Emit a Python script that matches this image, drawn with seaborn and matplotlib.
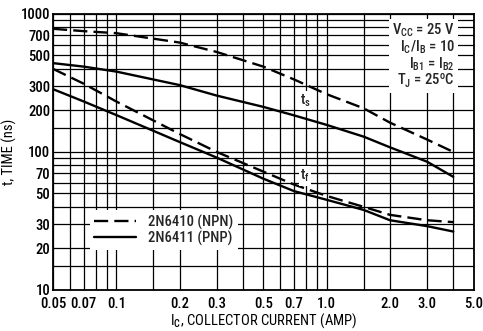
import numpy as np
import pandas as pd
import seaborn as sns
import matplotlib.pyplot as plt
from matplotlib.lines import Line2D

# collector current points (A)
ic = [0.05, 0.07, 0.1, 0.2, 0.3, 0.5, 0.7, 1.0, 1.5, 2.0, 3.0, 4.0]

# storage time ts (ns)
ts_npn = [780, 750, 725, 620, 530, 415, 335, 262, 207, 163, 123, 100]
ts_pnp = [440, 415, 382, 305, 256, 212, 184, 157, 129, 108, 85, 66]
# fall time tf (ns)
tf_npn = [400, 312, 232, 135, 100, 72, 58, 48, 40, 35, 32, 31]
tf_pnp = [285, 232, 185, 118, 91, 64, 52, 45, 38, 32, 29, 26.5]

x_major = [0.05, 0.07, 0.1, 0.2, 0.3, 0.5, 0.7, 1.0, 2.0, 3.0, 5.0]
x_labels = ["0.05", "0.07", "0.1", "0.2", "0.3", "0.5", "0.7", "1.0", "2.0", "3.0", "5.0"]
y_major = [10, 20, 30, 50, 70, 100, 200, 300, 500, 700, 1000]
y_labels = ["10", "20", "30", "50", "70", "100", "200", "300", "500", "700", "1000"]

# build a long table
rows = []
for dev, curve, vals in [("2N6410 (NPN)", "ts_npn", ts_npn), ("2N6411 (PNP)", "ts_pnp", ts_pnp),
                         ("2N6410 (NPN)", "tf_npn", tf_npn), ("2N6411 (PNP)", "tf_pnp", tf_pnp)]:
    for x, y in zip(ic, vals):
        rows.append({"ic": x, "t": y, "device": dev, "curve": curve})
df = pd.DataFrame(rows)

sns.set_style("white")
FONT = 'Roboto Condensed'
plt.rcParams['font.family'] = [FONT, 'DejaVu Sans']
plt.rcParams['font.weight'] = 'medium'
plt.rcParams['mathtext.fontset'] = 'custom'
plt.rcParams['mathtext.rm'] = FONT + ':medium'
plt.rcParams['mathtext.it'] = FONT + ':medium'
plt.rcParams['mathtext.bf'] = FONT + ':bold'

fig = plt.figure(figsize=(4.83, 3.31), dpi=100)
ax = fig.add_axes([0.1097, 0.124, 0.871, 0.834])

dash = (6, 2.6)
sns.lineplot(data=df, x="ic", y="t", style="device", units="curve", estimator=None,
             color="black", linewidth=1.7, ax=ax, legend=False,
             dashes={"2N6410 (NPN)": dash, "2N6411 (PNP)": ""}, zorder=3)

ax.set_xscale("log")
ax.set_yscale("log")
ax.set_xlim(0.05, 5.0)
ax.set_ylim(10, 1000)

# grid lines
x_grid = [0.05, 0.06, 0.07, 0.08, 0.09, 0.1, 0.15, 0.2, 0.3, 0.4, 0.5, 0.6, 0.7, 0.8, 0.9,
          1.0, 1.5, 2.0, 3.0, 4.0, 5.0]
y_grid = [10, 15, 20, 30, 40, 50, 60, 70, 80, 90, 100, 150, 200, 300, 400, 500, 600, 700,
          800, 900, 1000]
ax.set_xticks(x_grid, minor=True)
ax.set_yticks(y_grid, minor=True)
ax.set_xticks(x_major)
ax.set_xticklabels(x_labels)
ax.set_yticks(y_major)
ax.set_yticklabels(y_labels)
ax.grid(True, which="both", color="black", linewidth=0.9)
ax.tick_params(which="both", length=0, labelsize=10.5, colors="black")
ax.tick_params(axis="x", pad=5)
ax.tick_params(axis="y", pad=2)
ax.xaxis.set_minor_formatter(plt.NullFormatter())
ax.yaxis.set_minor_formatter(plt.NullFormatter())
for s in ax.spines.values():
    s.set_color("black")
    s.set_linewidth(1.3)

ax.set_xlabel("I$_C$, COLLECTOR CURRENT (AMP)", fontsize=10.5, color="black")
ax.set_ylabel("t, TIME (ns)", fontsize=10.5, color="black")
ax.xaxis.set_label_coords(0.5, -0.078)
ax.yaxis.set_label_coords(-0.085, 0.5)

# conditions box
ax.text(0.955, 0.972, "V$_{CC}$ = 25 V\nI$_C$/I$_B$ = 10\nI$_{B1}$ = I$_{B2}$\nT$_J$ = 25$^o$C",
        transform=ax.transAxes, ha="right", va="top", multialignment="right",
        fontsize=10.5, linespacing=0.95, zorder=4,
        bbox=dict(facecolor="white", edgecolor="none", pad=2))

# curve labels
ax.text(0.79, 236, "t$_s$", ha="center", va="center", fontsize=10.5, zorder=4,
        bbox=dict(facecolor="white", edgecolor="none", pad=1))
ax.text(0.79, 67, "t$_f$", ha="center", va="center", fontsize=10.5, zorder=4,
        bbox=dict(facecolor="white", edgecolor="none", pad=1))

handles = [Line2D([], [], color="black", linewidth=1.7, dashes=dash),
           Line2D([], [], color="black", linewidth=1.7)]
leg = ax.legend(handles, ["2N6410 (NPN)", "2N6411 (PNP)"], loc="upper left",
                bbox_to_anchor=(0.07, 0.315), frameon=True, fancybox=False,
                fontsize=10.5, handlelength=2.9, handletextpad=0.8,
                labelspacing=0.05, borderpad=0.3, framealpha=1)
leg.get_frame().set_edgecolor("none")
leg.get_frame().set_facecolor("white")
leg.set_zorder(5)

fig.savefig("out.png", dpi=100)
